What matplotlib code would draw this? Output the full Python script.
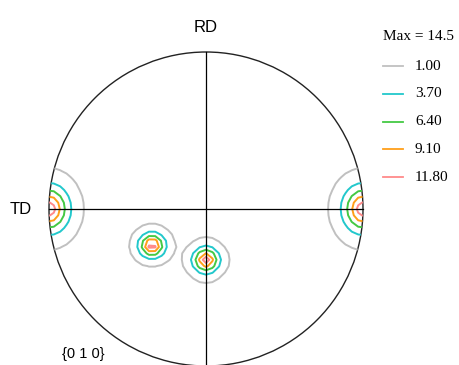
import numpy as np
import matplotlib.pyplot as plt
from matplotlib.patches import Circle

# pole figure {0 1 0}: peak positions (unit circle), heights and spreads
peak_x = [-0.344, 0.0, -1.0, 1.0]
peak_y = [-0.232, -0.325, 0.0, 0.0]
peak_h = [14.5, 14.2, 14.5, 14.5]
peak_sx = [0.075, 0.076, 0.114, 0.114]
peak_sy = [0.070, 0.074, 0.135, 0.135]

levels = [1.00, 3.70, 6.40, 9.10, 11.80]
level_labels = ['1.00', '3.70', '6.40', '9.10', '11.80']
level_colors = ['#c0c0c0', '#22c8cc', '#44c944', '#ff9f1a', '#ff8a8a']
max_value = 14.5

# coarse grid, like the original software
g = np.linspace(-1.05, 1.05, 53)
X, Y = np.meshgrid(g, g)
Z = np.zeros_like(X)
for px, py, h, sx, sy in zip(peak_x, peak_y, peak_h, peak_sx, peak_sy):
    r = np.sqrt(((X - px) / sx) ** 2 + ((Y - py) / sy) ** 2)
    Z += h * np.exp(-r ** 1.5)

fig = plt.figure(figsize=(4.6, 3.65), dpi=100)
ax = fig.add_axes([0, 0, 1, 1])
cx, cy, R = 206., 209., 157.
ax.set_xlim(-cx / R, (460 - cx) / R)
ax.set_ylim((cy - 365) / R, cy / R)
ax.set_aspect('equal')
ax.axis('off')

cs = ax.contour(X, Y, Z, levels=levels, colors=level_colors, linewidths=1.4)
clip = Circle((0, 0), 1.0, transform=ax.transData)
cs.set_clip_path(clip)

ax.add_patch(Circle((0, 0), 1.0, fill=False, color='#222222', lw=1.0))
ax.plot([-1, 1], [0, 0], color='k', lw=0.9)
ax.plot([0, 0], [-1, 1], color='k', lw=0.9)

ax.text(0, (cy - 28) / R, 'RD', ha='center', va='center', fontsize=12,
        family='Liberation Sans')
ax.text((21 - cx) / R, (cy - 210) / R, 'TD', ha='center', va='center',
        fontsize=12, family='Liberation Sans')
ax.text((83 - cx) / R, (cy - 354) / R, '{0 1 0}', ha='center', va='center',
        fontsize=10.5, family='Liberation Sans')

# legend
ax.text((383 - cx) / R, (cy - 37) / R, f'Max = {max_value}', ha='left',
        va='center', fontsize=11, family='Liberation Serif')
for i, (lab, col) in enumerate(zip(level_labels, level_colors)):
    yy = (cy - (66 + 27.8 * i)) / R
    ax.plot([(383 - cx) / R, (403 - cx) / R], [yy, yy], color=col, lw=1.3)
    ax.text((415 - cx) / R, yy, lab, ha='left', va='center', fontsize=11,
            family='Liberation Serif')

fig.savefig('out.png', dpi=100)
